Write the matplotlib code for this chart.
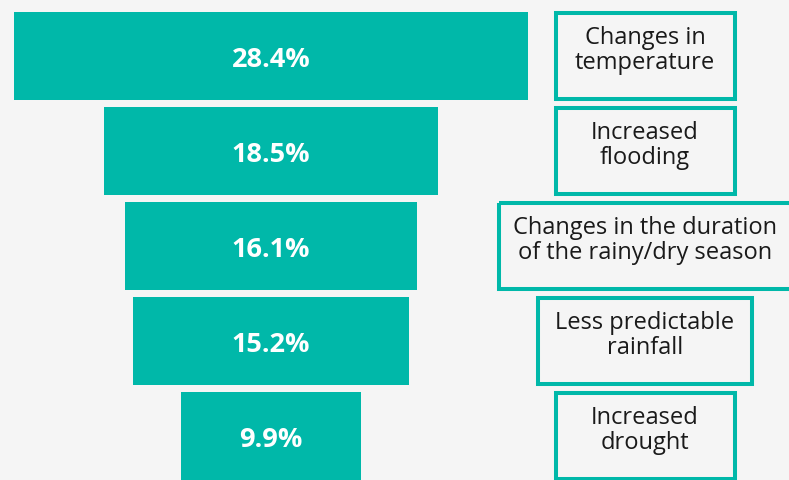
import numpy as np
import matplotlib.pyplot as plt
from matplotlib.patches import Rectangle

plt.rcParams['font.family'] = ['Open Sans', 'DejaVu Sans']

# data
labels = ['Changes in\ntemperature', 'Increased\nflooding',
          'Changes in the duration\nof the rainy/dry season',
          'Less predictable\nrainfall', 'Increased\ndrought']
values = np.array([28.4, 18.5, 16.1, 15.2, 9.9])

teal = '#00b8a9'
bg = '#f5f5f5'

fig = plt.figure(figsize=(7.89, 4.80), dpi=100, facecolor=bg)
ax = fig.add_axes([0, 0, 1, 1], facecolor=bg)

px = 18.1                 # pixels per percent
center = 271 / px         # funnel center
ax.set_xlim(0, 789 / px)
ax.set_ylim(480 / 95 - 56 / 95, -56 / 95)

rows = np.arange(len(values))
ax.barh(rows, values, left=center - values / 2, height=0.926, color=teal)
for r, v in zip(rows, values):
    ax.text(center, r + 0.045, f'{v}%', ha='center', va='center', color='white',
            fontsize=19.5, fontweight='bold')

# label boxes on the right
box_w = [179, 179, 292, 214, 179]   # pixel widths
box_cx = 645 / px
for r, lab, w in zip(rows, labels, box_w):
    wd = w / px
    ax.add_patch(Rectangle((box_cx - wd / 2, r - 0.45), wd, 0.9,
                           fill=False, edgecolor=teal, linewidth=2.9))
    ax.text(box_cx, r - 0.06, lab, ha='center', va='center', color='#1a1a1a',
            fontsize=17, linespacing=1.05)

ax.axis('off')
fig.savefig('out.png', dpi=100, facecolor=bg)
